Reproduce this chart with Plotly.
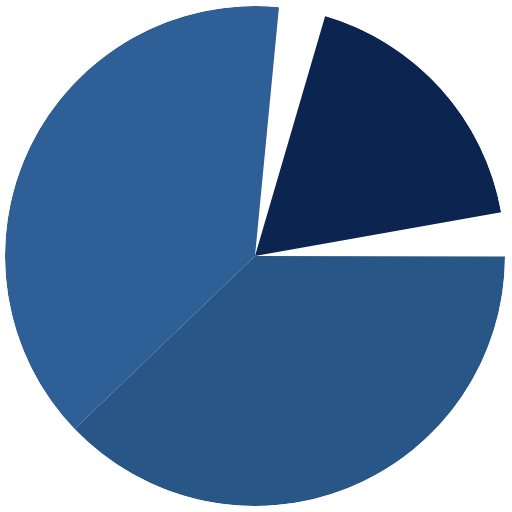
import numpy as np
import plotly.graph_objects as go

# Slice shares (percent of the full circle), clockwise from the top
segments = ["Segment A", "Segment B", "Segment C"]
shares = [23.5, 37.8, 38.7]
colors = ["#0b2550", "#285686", "#2e5f96"]

# style: where the first slice starts and how much the highlighted slice is trimmed
start_deg = 5.5
trim_start = [10.8, 0.0, 0.0]
trim_end = [10.2, 0.0, 0.0]

widths = np.array(shares) / sum(shares) * 360.0
ends = start_deg + np.cumsum(widths)
starts = ends - widths
a0 = starts + np.array(trim_start)
a1 = ends - np.array(trim_end)
centers = (a0 + a1) / 2
drawn = a1 - a0

fig = go.Figure()
fig.add_trace(go.Barpolar(
    r=[1] * len(shares),
    theta=centers,
    width=drawn,
    text=segments,
    customdata=shares,
    marker=dict(color=colors, line=dict(width=0)),
    hovertemplate='%{text}: %{customdata}%<extra></extra>',
))

fig.update_layout(
    width=512, height=512,
    margin=dict(l=0, r=0, t=0, b=0),
    paper_bgcolor='white',
    showlegend=False,
    polar=dict(
        domain=dict(x=[5 / 512, 505 / 512], y=[6 / 512, 506 / 512]),
        bgcolor='white',
        bargap=0,
        radialaxis=dict(range=[0, 1], visible=False, showgrid=False),
        angularaxis=dict(rotation=90, direction='clockwise', visible=False,
                         showgrid=False, showline=False),
    ),
)

fig.write_html("out.html", config={'displayModeBar': False},
               post_script="document.body.style.margin='0';")
